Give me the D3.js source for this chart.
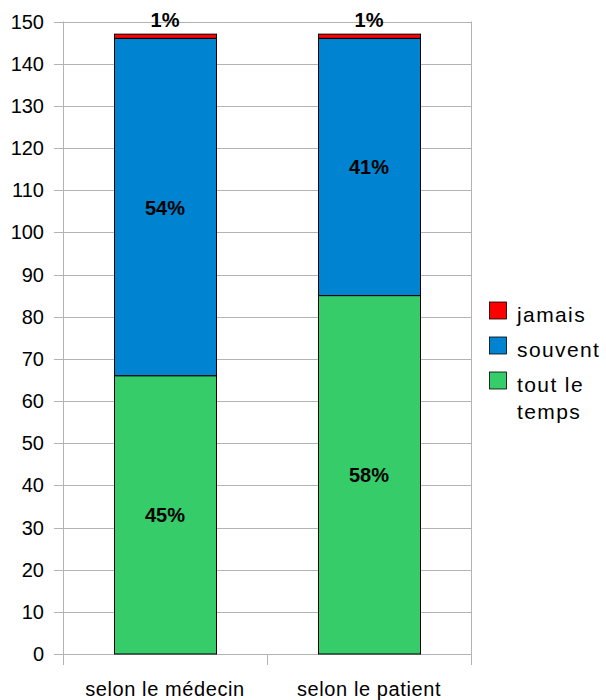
<!DOCTYPE html>
<html><head><meta charset="utf-8">
<script src="https://cdn.jsdelivr.net/npm/d3@7"></script>
<style>body{margin:0;background:#fff;font-family:"Liberation Sans",Arial,sans-serif;}</style>
</head><body><svg id="c" width="606" height="700"></svg>
<script>
const categories = ["selon le médecin", "selon le patient"];
const seriesNames = ["tout le temps", "souvent", "jamais"];
const toutLeTemps = [66, 85];
const souvent = [80, 61];
const jamais = [1, 1];
const pctTout = ["45%", "58%"];
const pctSouvent = ["54%", "41%"];
const pctJamais = ["1%", "1%"];
const yTicks = [0,10,20,30,40,50,60,70,80,90,100,110,120,130,140,150];
const colors = {"tout le temps":"#36cc6a","souvent":"#0084d1","jamais":"#ff0000"};

const svg = d3.select("#c").attr("font-family", "'Liberation Sans', Arial, sans-serif");
const pLeft = 63, pRight = 471, pTop = 21.5, pBottom = 654;
const x = d3.scaleBand().domain(categories).range([pLeft, pRight]).paddingInner(0.5).paddingOuter(0.25);
const y = d3.scaleLinear().domain([0,150]).range([pBottom, pTop]);

// gridlines
svg.append("g").selectAll("line").data(yTicks).join("line")
  .attr("x1", pLeft - 9).attr("x2", pRight)
  .attr("y1", d => Math.round(y(d)) + 0.5).attr("y2", d => Math.round(y(d)) + 0.5)
  .attr("stroke", "#b3b3b3").attr("stroke-width", 1);
// vertical axis line & category ticks
const catBounds = [pLeft, (pLeft+pRight)/2, pRight];
svg.append("g").selectAll("line").data(catBounds).join("line")
  .attr("x1", d => d + 0.5).attr("x2", d => d + 0.5)
  .attr("y1", (d,i) => i === 1 ? pBottom : pTop).attr("y2", pBottom + 11)
  .attr("stroke", "#b3b3b3");

// y labels
svg.append("g").selectAll("text").data(yTicks).join("text")
  .attr("x", 44).attr("y", d => y(d) + 7)
  .attr("text-anchor", "end").attr("font-size", 20).attr("fill", "#000")
  .text(d => d);

// stacked data
const rows = categories.map((c,i) => ({cat:c, "tout le temps":toutLeTemps[i], "souvent":souvent[i], "jamais":jamais[i]}));
const stack = d3.stack().keys(seriesNames)(rows);
svg.append("g").selectAll("g").data(stack).join("g")
  .attr("fill", d => colors[d.key])
  .selectAll("rect").data(d => d).join("rect")
  .attr("x", d => Math.round(x(d.data.cat)) + 0.5)
  .attr("width", Math.round(x.bandwidth()))
  .attr("y", d => y(d[1]))
  .attr("height", d => y(d[0]) - y(d[1]))
  .attr("stroke", "#000").attr("stroke-width", 1);

// value labels
const lab = svg.append("g").attr("font-weight", "bold").attr("font-size", 20).attr("text-anchor", "middle");
categories.forEach((c,i) => {
  const cx = x(c) + x.bandwidth()/2;
  lab.append("text").attr("x", cx).attr("y", y(toutLeTemps[i]/2) + 7.5).text(pctTout[i]);
  lab.append("text").attr("x", cx).attr("y", y(toutLeTemps[i] + souvent[i]/2) + 7.5).text(pctSouvent[i]);
  lab.append("text").attr("x", cx).attr("y", y(toutLeTemps[i] + souvent[i] + jamais[i]) - 7.5).text(pctJamais[i]);
});

// category labels
svg.append("g").selectAll("text").data(categories).join("text")
  .attr("x", d => x(d) + x.bandwidth()/2).attr("y", 696)
  .attr("text-anchor", "middle").attr("font-size", 20).attr("letter-spacing", 0.6).text(d => d);

// legend
const legendItems = [
  {key:"jamais", lines:["jamais"]},
  {key:"souvent", lines:["souvent"]},
  {key:"tout le temps", lines:["tout le","temps"]}
];
const lg = svg.append("g");
legendItems.forEach((it,i) => {
  const yy = 302 + i*35;
  lg.append("rect").attr("x", 489.5).attr("y", yy).attr("width", 17).attr("height", 17)
    .attr("fill", colors[it.key]).attr("stroke", "#000").attr("stroke-width", 0.8);
  it.lines.forEach((t,j) => {
    lg.append("text").attr("x", 517).attr("y", yy + 20 + j*27).attr("font-size", 21)
      .attr("letter-spacing", 1.4).text(t);
  });
});
</script></body></html>
